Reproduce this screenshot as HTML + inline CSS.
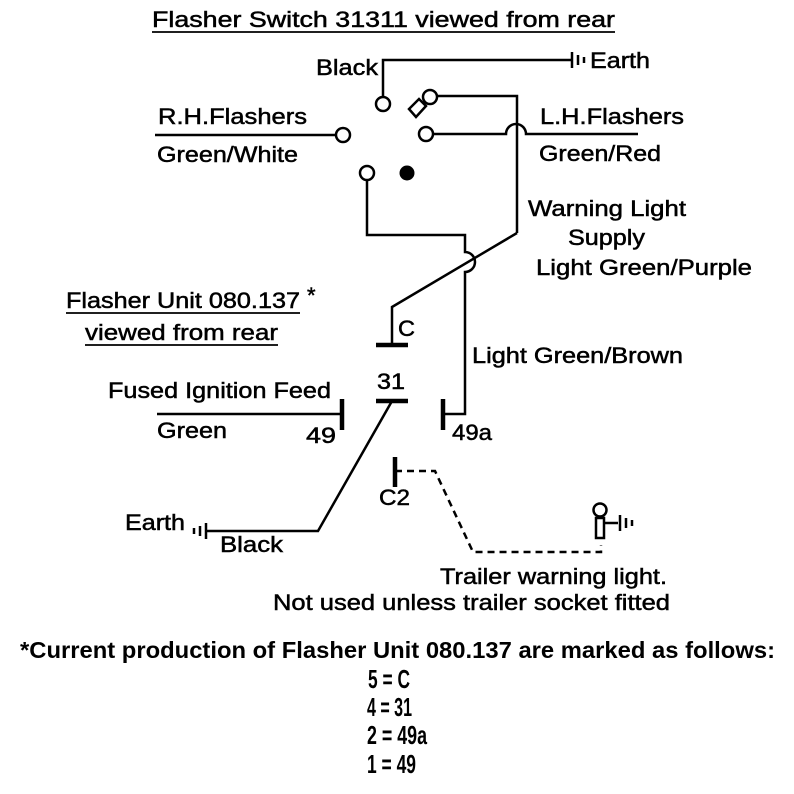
<!DOCTYPE html>
<html><head><meta charset="utf-8"><style>
html,body{margin:0;padding:0;background:#fff;}
svg{display:block;}
text{font-family:"Liberation Sans",Arial,sans-serif;fill:#000;font-size:22px;stroke:#000;stroke-width:0.5px;}
.b{font-weight:bold;stroke-width:0;font-size:23px;}
.l{font-weight:bold;stroke-width:0;font-size:26px;}
</style></head><body>
<svg width="794" height="794" viewBox="0 0 794 794" xmlns="http://www.w3.org/2000/svg">
<g fill="none" stroke="#000" stroke-width="2.5">
<line x1="152" y1="32" x2="615" y2="32" stroke-width="1.8"/>
<line x1="66" y1="313" x2="300" y2="313" stroke-width="1.8"/>
<line x1="85" y1="345" x2="278" y2="345" stroke-width="1.8"/>
<polyline points="383,97 383,60 572,60"/>
<line x1="572" y1="52" x2="572" y2="68"/>
<line x1="578" y1="55" x2="578" y2="65"/>
<line x1="584" y1="57" x2="584" y2="63"/>
<circle cx="383" cy="104" r="7"/>
<circle cx="430" cy="97" r="7"/>
<polygon points="409,109 416,117 426,106 419,99"/>
<polyline points="437,96 517,96 517,233"/>
<line x1="155" y1="135" x2="336" y2="135"/>
<circle cx="343" cy="135" r="7"/>
<circle cx="426" cy="134" r="7"/>
<path d="M433,134 L506,134 A10,10 0 0 1 526,134 L638,134"/>
<circle cx="367" cy="173" r="7"/>
<path d="M367,180 L367,235 L465,235 L465,252 A10,10 0 0 1 465,272 L465,414 L443,414"/>
<polyline points="517,233 392,307 392,345"/>
<line x1="376" y1="345" x2="408" y2="345" stroke-width="4.5"/>
<line x1="376" y1="401" x2="408" y2="401" stroke-width="4.5"/>
<line x1="342" y1="399" x2="342" y2="430" stroke-width="4.5"/>
<line x1="443" y1="399" x2="443" y2="430" stroke-width="4.5"/>
<line x1="395" y1="457" x2="395" y2="487" stroke-width="4.5"/>
<line x1="157" y1="414" x2="342" y2="414"/>
<polyline points="392,401 318,531 206,531"/>
<line x1="206" y1="523" x2="206" y2="539"/>
<line x1="200" y1="526" x2="200" y2="536"/>
<line x1="194" y1="528" x2="194" y2="534"/>
<polyline points="395,471 435,471 473,552 601,552 601,545" stroke-dasharray="7,5"/>
<circle cx="600" cy="510" r="6.5"/>
<rect x="596" y="518" width="8" height="20"/>
<line x1="604" y1="523" x2="618" y2="523"/>
<line x1="620" y1="515" x2="620" y2="531"/>
<line x1="626" y1="518" x2="626" y2="528"/>
<line x1="632" y1="520" x2="632" y2="526"/>
</g>
<circle cx="407" cy="173" r="7.5" fill="#000"/>
<text x="152" y="27" textLength="463" lengthAdjust="spacingAndGlyphs">Flasher Switch  31311  viewed from rear</text>
<text x="316" y="75" textLength="62" lengthAdjust="spacingAndGlyphs">Black</text>
<text x="590" y="68" textLength="60" lengthAdjust="spacingAndGlyphs">Earth</text>
<text x="158" y="124" textLength="149" lengthAdjust="spacingAndGlyphs">R.H.Flashers</text>
<text x="157" y="162" textLength="141" lengthAdjust="spacingAndGlyphs">Green/White</text>
<text x="540" y="124" textLength="144" lengthAdjust="spacingAndGlyphs">L.H.Flashers</text>
<text x="539" y="161" textLength="122" lengthAdjust="spacingAndGlyphs">Green/Red</text>
<text x="528" y="216" textLength="158" lengthAdjust="spacingAndGlyphs">Warning Light</text>
<text x="568" y="245" textLength="77" lengthAdjust="spacingAndGlyphs">Supply</text>
<text x="536" y="275" textLength="216" lengthAdjust="spacingAndGlyphs">Light Green/Purple</text>
<text x="66" y="308" textLength="234" lengthAdjust="spacingAndGlyphs">Flasher Unit 080.137</text>
<text x="307" y="303" font-size="16">*</text>
<text x="85" y="340" textLength="193" lengthAdjust="spacingAndGlyphs">viewed from rear</text>
<text x="472" y="363" textLength="211" lengthAdjust="spacingAndGlyphs">Light Green/Brown</text>
<text x="108" y="398" textLength="223" lengthAdjust="spacingAndGlyphs">Fused Ignition Feed</text>
<text x="157" y="438" textLength="70" lengthAdjust="spacingAndGlyphs">Green</text>
<text x="306" y="443" textLength="30" lengthAdjust="spacingAndGlyphs">49</text>
<text x="377" y="389" textLength="28" lengthAdjust="spacingAndGlyphs">31</text>
<text x="398" y="336" textLength="17" lengthAdjust="spacingAndGlyphs">C</text>
<text x="452" y="440" textLength="40" lengthAdjust="spacingAndGlyphs">49a</text>
<text x="379" y="505" textLength="31" lengthAdjust="spacingAndGlyphs">C2</text>
<text x="125" y="530" textLength="60" lengthAdjust="spacingAndGlyphs">Earth</text>
<text x="220" y="552" textLength="63" lengthAdjust="spacingAndGlyphs">Black</text>
<text x="440" y="584" textLength="227" lengthAdjust="spacingAndGlyphs">Trailer warning light.</text>
<text x="273" y="610" textLength="397" lengthAdjust="spacingAndGlyphs">Not used unless trailer socket fitted</text>
<text class="b" x="20" y="658" textLength="755" lengthAdjust="spacingAndGlyphs">*Current production of Flasher Unit 080.137 are marked as follows:</text>
<text class="l" x="368" y="688" textLength="42" lengthAdjust="spacingAndGlyphs">5 = C</text>
<text class="l" x="367" y="716" textLength="45" lengthAdjust="spacingAndGlyphs">4 = 31</text>
<text class="l" x="367" y="744" textLength="60" lengthAdjust="spacingAndGlyphs">2 = 49a</text>
<text class="l" x="367" y="773" textLength="49" lengthAdjust="spacingAndGlyphs">1 = 49</text>
</svg>
</body></html>
